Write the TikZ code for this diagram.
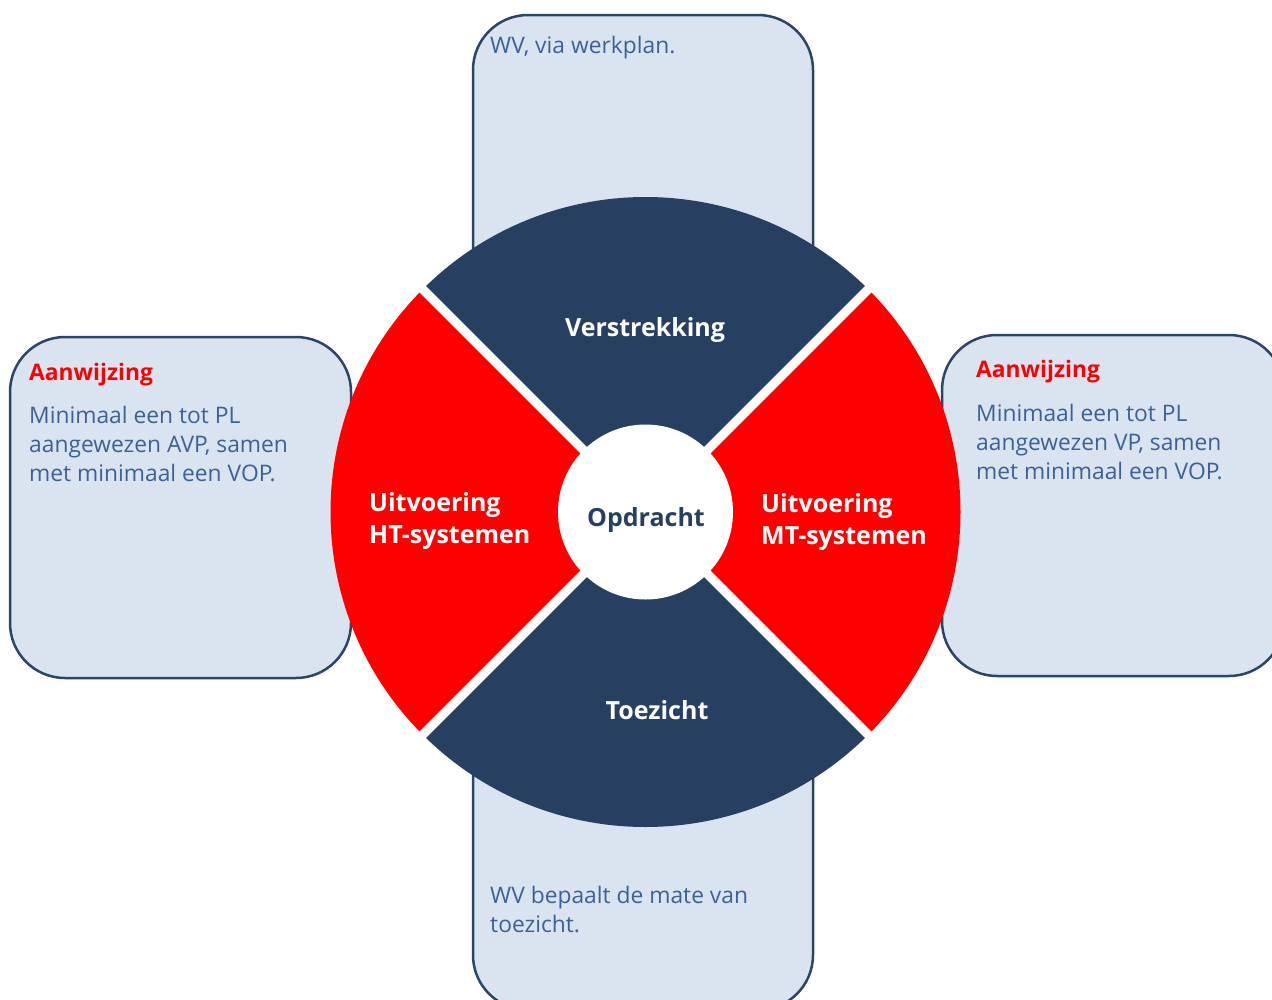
\documentclass[tikz,border=0pt]{standalone}
\usepackage{fontspec}
\setmainfont{Open Sans}
\definecolor{boxfill}{HTML}{DAE4F1}
\definecolor{boxline}{HTML}{2A4568}
\definecolor{darkseg}{HTML}{274062}
\definecolor{redseg}{HTML}{FF0000}
\definecolor{txtblue}{HTML}{3B6196}
\tikzset{
  infobox/.style={fill=boxfill,draw=boxline,line width=2.5pt,rounded corners=55pt},
  bodytxt/.style={anchor=base west,inner sep=0pt,align=left,text=txtblue,font=\fontsize{22.8}{28.6}\selectfont},
  titletxt/.style={anchor=base west,inner sep=0pt,text=redseg,font=\fontsize{22.8}{29}\selectfont\bfseries},
  segtxt/.style={inner sep=0pt,text=white,font=\fontsize{25}{32}\selectfont\bfseries},
}
\begin{document}
\begin{tikzpicture}[x=1pt,y=-1pt]
\useasboundingbox (0,0) rectangle (1272,999);
\clip (0,0) rectangle (1272,999);
\coordinate (c) at (645.5,512);
% boxes
\draw[infobox] (473,15) rectangle (813,356);
\draw[infobox] (473,668) rectangle (813,1010);
\draw[infobox] (10,337) rectangle (351,678);
\draw[infobox] (942,335) rectangle (1284,676);
% sectors
\fill[darkseg] (c) -- ++(225:315) arc[start angle=225,end angle=315,radius=315] -- cycle;
\fill[redseg] (c) -- ++(-45:315) arc[start angle=-45,end angle=45,radius=315] -- cycle;
\fill[darkseg] (c) -- ++(45:315) arc[start angle=45,end angle=135,radius=315] -- cycle;
\fill[redseg] (c) -- ++(135:315) arc[start angle=135,end angle=225,radius=315] -- cycle;
\begin{scope}
\clip (c) circle[radius=316];
\draw[white,line width=9pt] (c) -- ++(45:330);
\draw[white,line width=9pt] (c) -- ++(135:330);
\draw[white,line width=9pt] (c) -- ++(225:330);
\draw[white,line width=9pt] (c) -- ++(315:330);
\end{scope}
\fill[white] (c) circle[radius=87.5];
% labels
\node[segtxt,anchor=base] (verstr) at (645,336) {Verstrekking};
\node[segtxt,anchor=base,text=darkseg] (opdr) at (646,526) {Opdracht};
\node[segtxt,anchor=base] (toez) at (657,719) {Toezicht};
\node[segtxt,anchor=base west,align=left] (ht) at (369,543) {Uitvoering\\HT-systemen};
\node[segtxt,anchor=base west,align=left] (mt) at (761,544) {Uitvoering\\MT-systemen};
% box texts
\node[bodytxt] (toptxt) at (490,53) {WV, via werkplan.};
\node[bodytxt] (bottxt) at (490,932) {WV bepaalt de mate van\\toezicht.};
\node[titletxt] (ltitle) at (29,380) {Aanwijzing};
\node[bodytxt] (ltxt) at (29,481) {Minimaal een tot PL\\aangewezen AVP, samen\\met minimaal een VOP.};
\node[titletxt] (rtitle) at (976,377) {Aanwijzing};
\node[bodytxt] (rtxt) at (976,479) {Minimaal een tot PL\\aangewezen VP, samen\\met minimaal een VOP.};
\end{tikzpicture}
\end{document}
